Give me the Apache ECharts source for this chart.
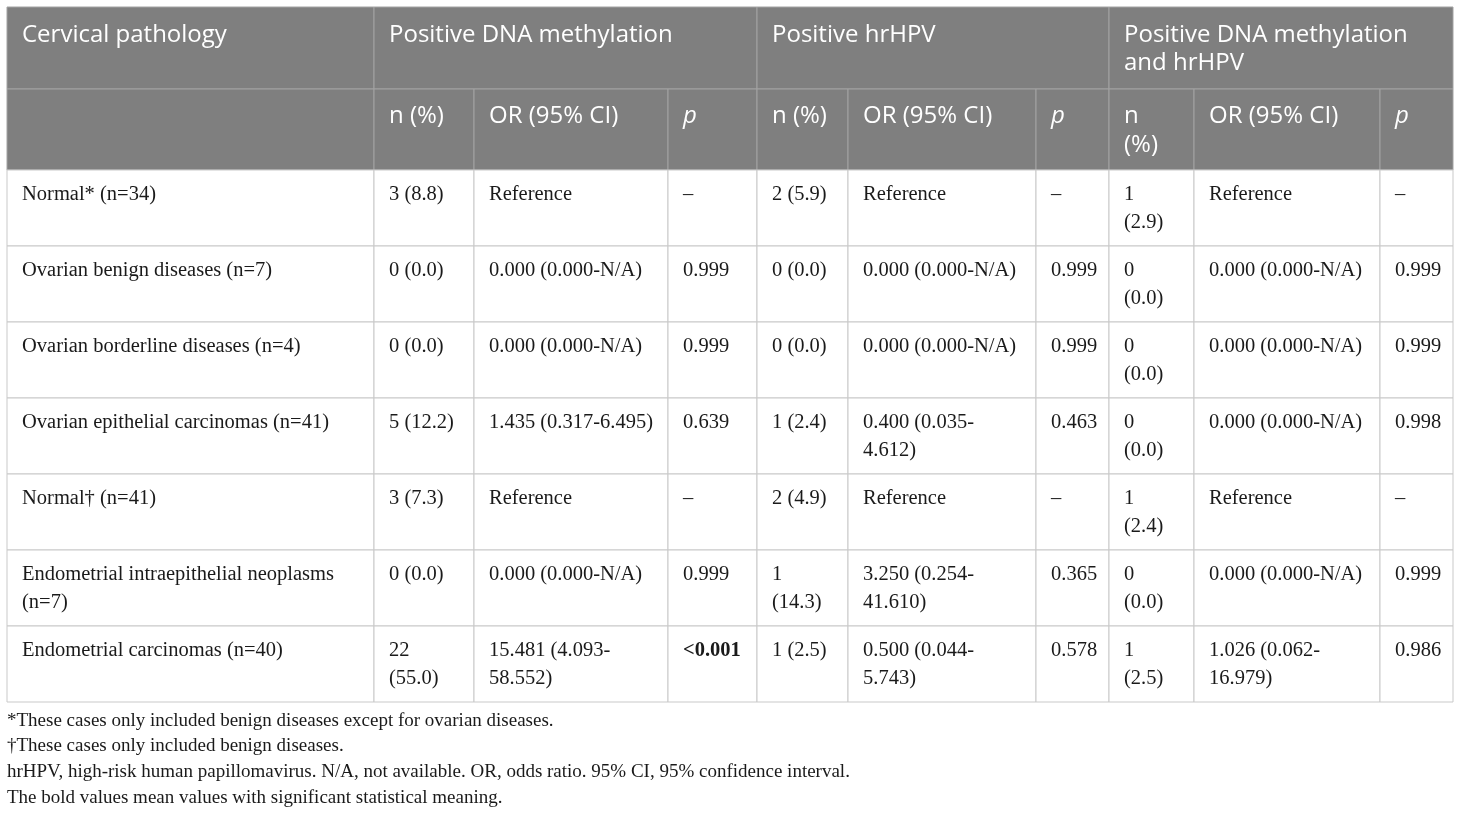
<!DOCTYPE html>
<html>
<head>
<meta charset="utf-8">
<script src="https://cdn.jsdelivr.net/npm/echarts@6/dist/echarts.min.js"></script>
<style>
html,body{margin:0;padding:0;background:#fff;}
#chart{width:1460px;height:813px;}
</style>
</head>
<body>
<div id="chart"></div>
<script>
// ---- table content ----
const groupHeaders = ['Cervical pathology', 'Positive DNA methylation', 'Positive hrHPV', 'Positive DNA methylation\nand hrHPV'];
const subHeaders = ['', 'n (%)', 'OR (95% CI)', 'p', 'n (%)', 'OR (95% CI)', 'p', 'n\n(%)', 'OR (95% CI)', 'p'];
const categories = [
  'Normal* (n=34)',
  'Ovarian benign diseases (n=7)',
  'Ovarian borderline diseases (n=4)',
  'Ovarian epithelial carcinomas (n=41)',
  'Normal\u2020 (n=41)',
  'Endometrial intraepithelial neoplasms\n(n=7)',
  'Endometrial carcinomas (n=40)'
];
const methylN  = ['3 (8.8)', '0 (0.0)', '0 (0.0)', '5 (12.2)', '3 (7.3)', '0 (0.0)', '22\n(55.0)'];
const methylOR = ['Reference', '0.000 (0.000-N/A)', '0.000 (0.000-N/A)', '1.435 (0.317-6.495)', 'Reference', '0.000 (0.000-N/A)', '15.481 (4.093-\n58.552)'];
const methylP  = ['\u2013', '0.999', '0.999', '0.639', '\u2013', '0.999', '<0.001'];
const hpvN     = ['2 (5.9)', '0 (0.0)', '0 (0.0)', '1 (2.4)', '2 (4.9)', '1\n(14.3)', '1 (2.5)'];
const hpvOR    = ['Reference', '0.000 (0.000-N/A)', '0.000 (0.000-N/A)', '0.400 (0.035-\n4.612)', 'Reference', '3.250 (0.254-\n41.610)', '0.500 (0.044-\n5.743)'];
const hpvP     = ['\u2013', '0.999', '0.999', '0.463', '\u2013', '0.365', '0.578'];
const bothN    = ['1\n(2.9)', '0\n(0.0)', '0\n(0.0)', '0\n(0.0)', '1\n(2.4)', '0\n(0.0)', '1\n(2.5)'];
const bothOR   = ['Reference', '0.000 (0.000-N/A)', '0.000 (0.000-N/A)', '0.000 (0.000-N/A)', 'Reference', '0.000 (0.000-N/A)', '1.026 (0.062-\n16.979)'];
const bothP    = ['\u2013', '0.999', '0.999', '0.998', '\u2013', '0.999', '0.986'];
const boldValues = ['<0.001'];
const footnotes = [
  '*These cases only included benign diseases except for ovarian diseases.',
  '\u2020These cases only included benign diseases.',
  'hrHPV, high-risk human papillomavirus. N/A, not available. OR, odds ratio. 95% CI, 95% confidence interval.',
  'The bold values mean values with significant statistical meaning.'
];

// ---- layout (not data) ----
const COL_EDGES = [7, 374, 474, 668, 757, 848, 1036, 1109, 1194, 1380, 1453];
const ROW_EDGES = [7, 89, 170, 246, 322, 398, 474, 550, 626, 702];
const GROUP_SPANS = [[0, 1], [1, 4], [4, 7], [7, 10]];
const FOOT_Y = [709, 734, 760, 786];

const bodyCols = [categories, methylN, methylOR, methylP, hpvN, hpvOR, hpvP, bothN, bothOR, bothP];

const cells = [];
GROUP_SPANS.forEach((s, i) => cells.push({c0: s[0], c1: s[1], r: 0, text: groupHeaders[i], kind: 'h0'}));
subHeaders.forEach((t, i) => cells.push({c0: i, c1: i + 1, r: 1, text: t, kind: 'h1', italic: t === 'p'}));
categories.forEach((_, ri) => {
  bodyCols.forEach((col, ci) => {
    cells.push({c0: ci, c1: ci + 1, r: ri + 2, text: col[ri], kind: 'b', bold: boldValues.indexOf(col[ri]) >= 0});
  });
});

const SANS = '"Open Sans", "Noto Sans", sans-serif';
const SERIF = '"Liberation Serif", "DejaVu Serif", serif';

function renderCell(params, api) {
  const c = cells[params.dataIndex];
  const p0 = api.coord([COL_EDGES[c.c0], ROW_EDGES[c.r]]);
  const p1 = api.coord([COL_EDGES[c.c1], ROW_EDGES[c.r + 1]]);
  const isHead = c.kind !== 'b';
  let font, lh, dy;
  if (c.kind === 'h0') { font = '24px ' + SANS; lh = 28; dy = 14; }
  else if (c.kind === 'h1') { font = (c.italic ? 'italic ' : '') + '24px ' + SANS; lh = 29; dy = 13; }
  else { font = (c.bold ? 'bold ' : '') + '20.5px ' + SERIF; lh = 28; dy = 11; }
  return {
    type: 'group',
    children: [
      {
        type: 'rect',
        shape: {x: p0[0], y: p0[1], width: p1[0] - p0[0], height: p1[1] - p0[1]},
        style: {fill: isHead ? '#7f7f7f' : '#ffffff', stroke: isHead ? '#a3a3a3' : '#c9c9c9', lineWidth: 1}
      },
      {
        type: 'text',
        style: {
          text: c.text, x: p0[0] + 15, y: p0[1] + dy,
          font: font, lineHeight: lh,
          fill: isHead ? '#ffffff' : '#1a1a1a',
          textAlign: 'left', textVerticalAlign: 'top'
        }
      }
    ]
  };
}

function renderFoot(params, api) {
  const i = params.dataIndex;
  const p = api.coord([COL_EDGES[0], FOOT_Y[i]]);
  return {
    type: 'text',
    style: {
      text: footnotes[i], x: p[0], y: p[1],
      font: '19px ' + SERIF, lineHeight: 25,
      fill: '#1a1a1a', textAlign: 'left', textVerticalAlign: 'top'
    }
  };
}

const chart = echarts.init(document.getElementById('chart'), null, {renderer: 'canvas'});
chart.setOption({
  backgroundColor: '#ffffff',
  animation: false,
  grid: {left: 0, right: 0, top: 0, bottom: 0},
  xAxis: {type: 'value', min: 0, max: 1460, show: false},
  yAxis: {type: 'value', min: 0, max: 813, inverse: true, show: false},
  series: [
    {
      type: 'custom', clip: false, silent: true,
      data: cells.map(c => [COL_EDGES[c.c0], ROW_EDGES[c.r]]),
      renderItem: renderCell
    },
    {
      type: 'custom', clip: false, silent: true,
      data: footnotes.map((f, i) => [COL_EDGES[0], FOOT_Y[i]]),
      renderItem: renderFoot
    }
  ]
});
</script>
</body>
</html>
